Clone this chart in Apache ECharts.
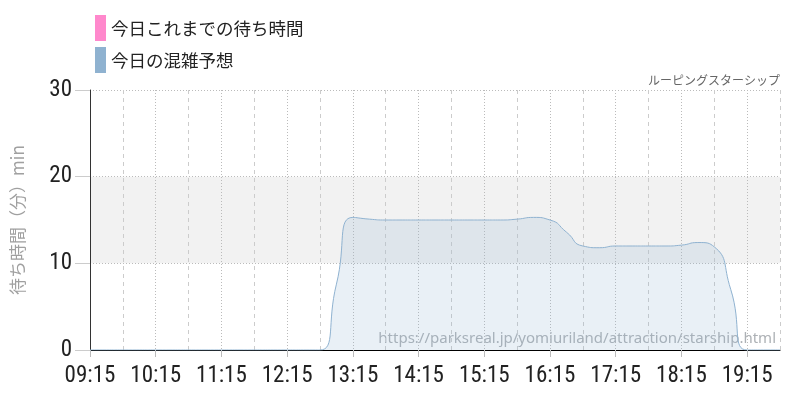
<!DOCTYPE html>
<html>
<head>
<meta charset="utf-8">
<script src="https://cdn.jsdelivr.net/npm/echarts@6/dist/echarts.min.js"></script>
<style>
html,body{margin:0;padding:0;background:#fff;}
#chart{width:800px;height:400px;}
</style>
</head>
<body>
<div id="chart"></div>
<script>
const times = ["09:15","09:30","09:45","10:00","10:15","10:30","10:45","11:00","11:15","11:30","11:45","12:00","12:15","12:30","12:45","13:00","13:15","13:30","13:45","14:00","14:15","14:30","14:45","15:00","15:15","15:30","15:45","16:00","16:15","16:30","16:45","17:00","17:15","17:30","17:45","18:00","18:15","18:30","18:45","19:00","19:15","19:30","19:45"];
const forecast = [0,0,0,0,0,0,0,0,0,0,0,0,0,0,0,7.6,15.3,15.1,15,15,15,15,15,15,15,15,15.1,15.3,15.0,13.6,12.0,11.8,12.0,12.0,12.0,12.0,12.1,12.4,11.9,7.0,0,0,0];
const actual = [];
const seriesNames = ["今日これまでの待ち時間","今日の混雑予想"];
const yTicks = [0,10,20,30];
const chartTitle = "ルーピングスターシップ";
const yName = "待ち時間（分）min";
const sourceUrl = "https://parksreal.jp/yomiuriland/attraction/starship.html";

const numFont = 'Roboto,"DejaVu Sans",sans-serif';
const jpFont = '"Noto Sans CJK JP","Noto Sans",sans-serif';

const chart = echarts.init(document.getElementById('chart'), null, {renderer:'canvas'});
chart.setOption({
  animation:false,
  backgroundColor:'#fff',
  title:{text:chartTitle, right:15, top:69, textStyle:{fontSize:12, fontWeight:'normal', color:'#666', fontFamily:jpFont}},
  legend:{
    orient:'vertical', left:90, top:10, itemWidth:11, itemHeight:26, itemGap:6, icon:'rect',
    data:seriesNames,
    textStyle:{fontSize:17.5, color:'#222', fontFamily:jpFont}
  },
  grid:{left:90, right:20, top:90, bottom:50},
  graphic:[{
    type:'text', right:24, top:331, z:-1,
    style:{text:sourceUrl, fill:'#adb1b5', fontSize:15, fontFamily:'"Noto Sans",sans-serif'}
  }],
  xAxis:[{
    type:'category', data:times, boundaryGap:false,
    axisLine:{lineStyle:{color:'#000', width:1}},
    axisTick:{show:true, interval:3, length:7, lineStyle:{color:'#bbb'}},
    axisLabel:{interval:3, fontSize:23, fontWeight:'condensed', color:'#222', margin:15, fontFamily:numFont},
    splitLine:{show:true, interval:function(i){return i%4===2;}, lineStyle:{color:'#ccc', type:[4,4]}}
  },{
    type:'category', data:times, boundaryGap:false, position:'bottom',
    axisLine:{show:false}, axisTick:{show:false}, axisLabel:{show:false},
    splitLine:{show:true, interval:function(i){return i%4===0 && i>0;}, lineStyle:{color:'#bbb', type:[1,2]}}
  }],
  yAxis:{
    type:'value', min:yTicks[0], max:yTicks[yTicks.length-1], interval:10,
    name:yName, nameLocation:'middle', nameGap:64, nameRotate:90,
    nameTextStyle:{fontSize:17, color:'#a0a0a0', fontFamily:jpFont},
    axisLine:{show:true, lineStyle:{color:'#333'}},
    axisTick:{show:true, length:15, lineStyle:{color:'#ccc'}},
    axisLabel:{fontSize:23, fontWeight:'condensed', color:'#222', margin:18, fontFamily:numFont},
    splitLine:{show:true, lineStyle:{color:'#bbb', type:[1,2]}},
    splitArea:{show:true, areaStyle:{color:['rgba(0,0,0,0)','#f2f2f2','rgba(0,0,0,0)']}}
  },
  series:[{
    name:seriesNames[0], type:'line', data:actual, color:'#ff88cc', symbol:'none'
  },{
    name:seriesNames[1], type:'line', data:forecast, color:'#8fb2d0', symbol:'none',
    smooth:0.6, lineStyle:{width:1, color:'#8fb2d0'},
    areaStyle:{color:'rgba(143,178,208,0.28)'}
  }]
});
</script>
</body>
</html>
